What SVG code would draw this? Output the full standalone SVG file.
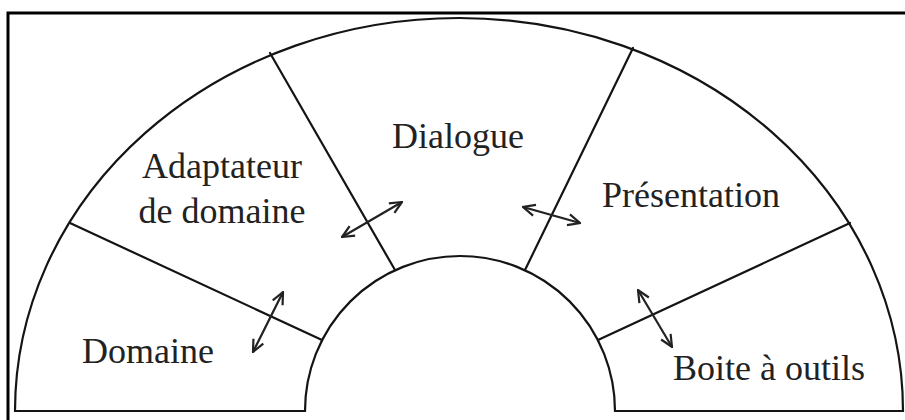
<svg xmlns="http://www.w3.org/2000/svg" width="905" height="420" viewBox="0 0 905 420">
<style>
.ln{fill:none;stroke:#141414;stroke-width:2.2;stroke-linecap:round}
.fr{fill:none;stroke:#000;stroke-width:3}
.lb{font-family:"Liberation Serif","Times New Roman",serif;font-size:36px;fill:#222}
.ar{fill:none;stroke:#222;stroke-width:2.2;marker-start:url(#h);marker-end:url(#h)}
</style>
<defs>
<marker id="h" viewBox="0 0 14 14" refX="13" refY="7" markerWidth="14" markerHeight="14" markerUnits="userSpaceOnUse" orient="auto-start-reverse">
<path d="M1 1.5 L13 7 L1 12.5" fill="none" stroke="#222" stroke-width="2.2" stroke-linejoin="miter"/>
</marker>
</defs>
<rect width="905" height="420" fill="#fff"/>
<path class="fr" d="M8 420 V13 H905"/>
<g id="outline">
<path class="ln" d="M15 411 A444 393 0 0 1 903 411 H615 A155 155 0 0 0 305 411 Z"/>
</g>
<g id="dividers">
<path class="ln" d="M70 223 L322 340"/>
<path class="ln" d="M270 53 L395 270"/>
<path class="ln" d="M633 48 L525 270"/>
<path class="ln" d="M850 223 L598 340"/>
</g>
<g id="domaine"><text class="lb" x="82" y="363">Domaine</text></g>
<g id="adaptateur"><text class="lb" x="222" y="178" text-anchor="middle">Adaptateur</text><text class="lb" x="222" y="223" text-anchor="middle">de domaine</text></g>
<g id="dialogue"><text class="lb" x="458" y="148" text-anchor="middle">Dialogue</text></g>
<g id="presentation"><text class="lb" x="602" y="207">Présentation</text></g>
<g id="boite"><text class="lb" x="673" y="380">Boite à outils</text></g>
<g id="connectors">
<path class="ar" d="M253 352 L283 292"/>
<path class="ar" d="M342 237 L402 202"/>
<path class="ar" d="M523 207 L580 223"/>
<path class="ar" d="M638 290 L672 347"/>
</g>
</svg>
